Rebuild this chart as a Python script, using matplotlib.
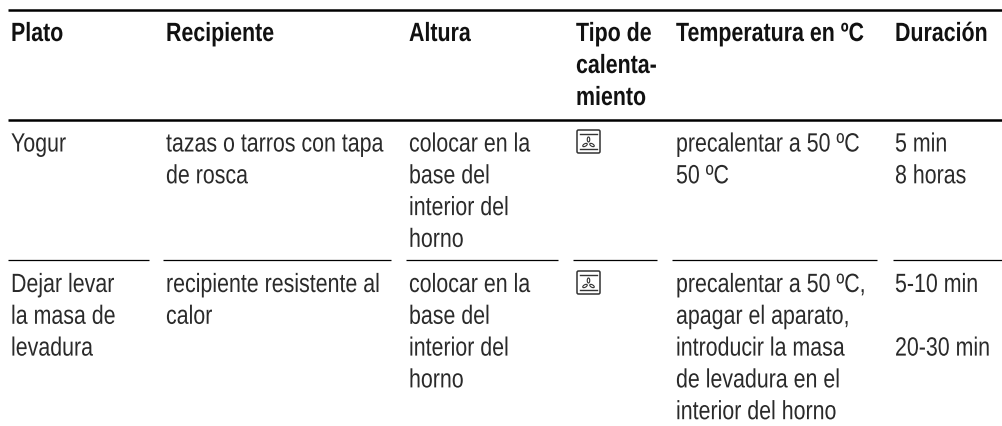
import matplotlib
matplotlib.use('Agg')
import matplotlib.pyplot as plt
from matplotlib.patches import Ellipse, FancyBboxPatch
from matplotlib.patheffects import AbstractPathEffect
from matplotlib.transforms import Affine2D

# table content
headers = [['Plato'], ['Recipiente'], ['Altura'], ['Tipo de', 'calenta-', 'miento'],
           ['Temperatura en ºC'], ['Duración']]
row1 = [['Yogur'],
        ['tazas o tarros con tapa', 'de rosca'],
        ['colocar en la', 'base del', 'interior del', 'horno'],
        [],
        ['precalentar a 50 ºC', '50 ºC'],
        ['5 min', '8 horas']]
row2 = [['Dejar levar', 'la masa de', 'levadura'],
        ['recipiente resistente al', 'calor'],
        ['colocar en la', 'base del', 'interior del', 'horno'],
        [],
        ['precalentar a 50 ºC,', 'apagar el aparato,', 'introducir la masa',
         'de levadura en el', 'interior del horno'],
        ['5-10 min', '', '20-30 min']]

col_x = [11, 166, 409, 576, 676, 895]
segments = [(8, 149), (163, 391), (406, 558), (573, 657), (672, 877), (893, 1003)]


class Narrow(AbstractPathEffect):
    # squeeze glyphs sideways, no condensed font is installed
    def __init__(self, x0, sx=0.81):
        super().__init__()
        self.x0 = x0
        self.sx = sx

    def draw_path(self, renderer, gc, tpath, affine, rgbFace=None):
        squeeze = Affine2D().translate(-self.x0, 0).scale(self.sx, 1).translate(self.x0, 0)
        renderer.draw_path(gc, tpath, affine + squeeze, rgbFace)


fig = plt.figure(figsize=(10.03, 4.27), dpi=100)
ax = fig.add_axes([0, 0, 1, 1])
ax.set_xlim(0, 1003)
ax.set_ylim(427, 0)
ax.axis('off')


def draw_cells(cells, y0, dy, weight, color):
    for x, lines in zip(col_x, cells):
        for i, line in enumerate(lines):
            ax.text(x, y0 + i * dy, line, fontsize=19, fontweight=weight, color=color,
                    family='Liberation Sans', va='baseline', ha='left',
                    path_effects=[Narrow(x)])


def oven_icon(x, y):
    box = FancyBboxPatch((x, y), 23, 23, boxstyle='round,pad=0,rounding_size=1.5',
                         fc='white', ec='#333333', lw=1.1)
    ax.add_patch(box)
    ax.plot([x + 3, x + 20], [y + 4, y + 4], color='#333333', lw=1)
    ax.plot([x + 3, x + 20], [y + 19, y + 19], color='#333333', lw=1)
    cx, cy = x + 11.5, y + 13
    ax.add_patch(Ellipse((cx, cy - 3.5), 2.5, 5, fc='none', ec='#333333', lw=0.8))
    ax.add_patch(Ellipse((cx - 3.5, cy + 2), 5, 2.5, angle=-30, fc='none', ec='#333333', lw=0.8))
    ax.add_patch(Ellipse((cx + 3.5, cy + 2), 5, 2.5, angle=30, fc='none', ec='#333333', lw=0.8))


# heavy rules
ax.plot([8, 1003], [11, 11], color='black', lw=1.8, solid_capstyle='butt')
ax.plot([8, 1003], [121, 121], color='black', lw=1.8, solid_capstyle='butt')
# thin row separators
for x0, x1 in segments:
    ax.plot([x0, x1], [261, 261], color='black', lw=0.9, solid_capstyle='butt')

draw_cells(headers, 42, 32, 'bold', '#111111')
draw_cells(row1, 152.5, 31.8, 'normal', '#2a2a2a')
draw_cells(row2, 293, 31.8, 'normal', '#2a2a2a')

oven_icon(577, 131)
oven_icon(577, 272)

fig.savefig('out.png', dpi=100, facecolor='white')
